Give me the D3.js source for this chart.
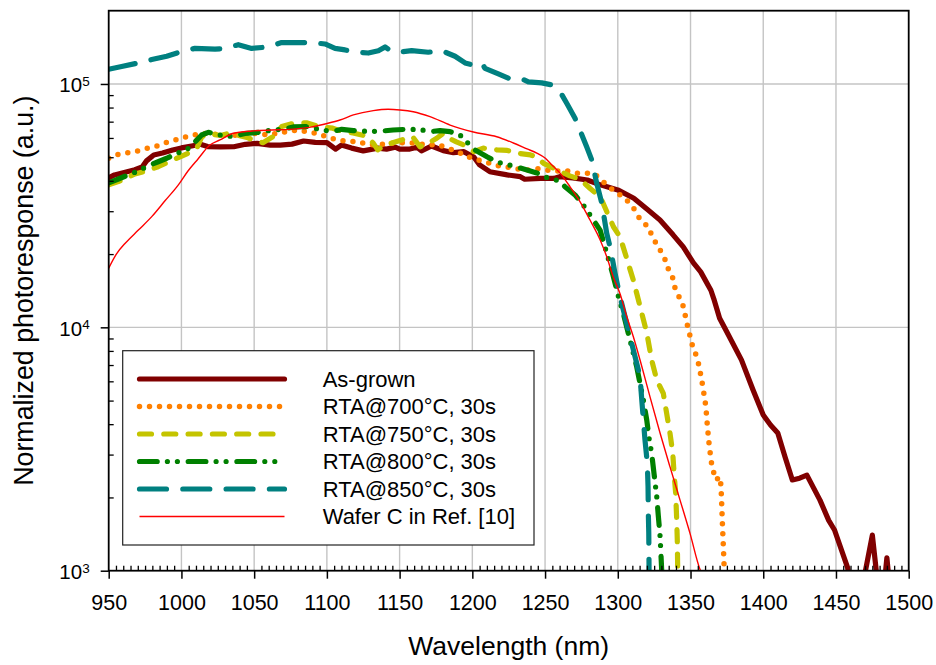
<!DOCTYPE html>
<html><head><meta charset="utf-8">
<script src="https://cdn.jsdelivr.net/npm/d3@7/dist/d3.min.js"></script>
<style>
body{margin:0;background:#fff}
svg{display:block;font-family:"Liberation Sans",Arial,Helvetica,sans-serif}
</style>
</head><body>
<svg id="chart" width="936" height="665"></svg>
<script>
// ---------------- data ----------------
const seriesNames = ["As-grown","RTA@700°C, 30s","RTA@750°C, 30s","RTA@800°C, 30s","RTA@850°C, 30s","Wafer C in Ref. [10]"];

const asGrownWl = [950,954,968,973,976,981,987,994,1000,1007,1013,1018,1027,1036,1044,1052,1061,1068,1076,1084,1092,1100,1106,1110,1117,1125,1135,1141,1147,1150,1157,1162,1165,1172,1180,1187,1194,1201,1205,1212,1224,1233,1236,1247,1256,1260,1269,1279,1288,1300,1311,1320,1329,1338,1345,1352,1357,1364,1366,1370,1375,1385,1393,1400,1405,1410,1415,1420,1425,1430,1439,1445,1449,1458,1460,1468,1475,1479,1483,1485,1487];
const asGrownVal = [41100,42300,44400,45600,48300,51100,52000,53500,54600,55600,56500,55300,55100,55200,56500,57000,56100,56100,56600,58300,57500,57400,54000,56100,54500,53100,54500,54000,55000,54000,54000,55000,53100,55600,53200,52200,52700,50100,46500,43600,42300,41600,40600,40900,40900,41600,41100,40300,38500,36700,33900,30600,27600,24000,21400,18400,16900,14200,13100,10900,9570,7350,5530,4360,3970,3680,2930,2360,2400,2470,1950,1610,1470,1030,850,850,1400,850,850,1130,850];

const rta700Wl = [950,957,964,970,977,984,991,998,1005,1012,1019,1025,1032,1040,1052,1059,1073,1080,1086,1093,1100,1107,1114,1121,1128,1135,1141,1148,1155,1162,1169,1176,1183,1190,1196,1203,1210,1217,1224,1231,1238,1245,1251,1258,1264,1271,1278,1284,1291,1298,1305,1311,1315,1321,1324,1328,1332,1334,1337.5,1339,1342,1345,1348,1351.5,1354.3,1356,1358.4,1360.5,1361.6,1362.9,1364.6,1367.3,1370.3,1371,1371.5,1372,1372.6,1373.1,1373.3];
const rta700Val = [49500,51500,52200,53100,54500,55800,57900,59400,61100,62300,62700,62000,61700,61400,62700,61700,63800,64700,63700,62700,60700,58900,58000,58000,56400,56100,57000,57000,57500,56900,56100,56400,54500,52700,50400,48900,47600,46200,45500,44800,44300,44800,44300,43900,44100,43000,43000,42700,39100,36100,33900,30800,28000,25800,23400,21300,19400,17700,16200,14700,13400,12200,10100,8330,7570,6890,5740,4750,3930,3250,2720,2360,2430,2210,1830,1520,1250,1040,950];

const rta750Wl = [950,956.6,963.5,968,974,984,989,999,1007,1011,1014,1020,1027,1031,1038,1045,1052,1056,1063,1069,1077,1086,1095,1104,1111,1118,1127,1132,1135,1140,1148,1155,1159,1164,1169.5,1175.5,1180,1185,1189,1196,1201,1207.5,1217,1224,1230.5,1240,1244,1249,1258,1267,1274,1281,1288,1292.4,1297,1301.6,1306,1310.7,1315.3,1320,1323.3,1326.8,1331.3,1333.6,1335.9,1337.8,1338.7,1339.8,1340.5,1340.9,1341.2,1341.3];
const rta750Val = [38500,39700,41400,42700,43600,45700,47200,50200,52700,55200,60700,62300,61400,62300,61700,60300,58000,57400,60700,66800,68900,69200,66800,65800,63700,62900,61100,57000,53600,56100,58000,59800,60700,55200,57000,59800,62700,59400,57800,55600,52700,54500,53600,53300,52000,51100,50200,47200,44400,41900,40600,37200,34400,29900,25900,23500,19300,15600,12200,9440,7340,6070,5350,4430,3670,3030,2510,2080,1620,1340,1000,950];

const rta800Wl = [950,956.6,963.5,970.4,976.8,983.6,989.9,996.8,1003.6,1009.7,1013.9,1018.5,1025,1030.6,1036.8,1043.7,1052.3,1062.3,1070,1076.9,1085.6,1095.3,1103.3,1110.2,1118.2,1129.7,1138.6,1145.5,1154.9,1164,1170.9,1177.8,1184.7,1191.5,1197.2,1201.8,1210.4,1216.8,1228.2,1237.6,1244.3,1251.1,1260.3,1263.7,1270.6,1276.3,1280.9,1287.8,1292.4,1296.7,1300.4,1303.8,1308.4,1313,1317.6,1319.9,1321.7,1323.3,1324.9,1326.8,1327.9,1329.1,1330.2,1330.4];
const rta800Val = [39200,40700,42300,43900,46000,47800,49500,51900,53600,58100,61700,63300,62000,61000,61100,62600,63200,64700,65200,66600,66800,65100,63700,65100,64300,63800,64100,64700,65100,65000,63700,64300,63700,61700,57000,53600,50100,47800,46000,44300,43100,41300,39900,37800,35000,31800,29000,25100,20200,16400,13400,11400,8870,6890,5020,4160,3440,3030,2510,2010,1670,1380,1000,950];

const rta850Wl = [950,958.9,970.4,979.6,989.9,1000.2,1009.3,1023.1,1030,1039.1,1048.3,1059.7,1068.9,1089.6,1098.7,1105.6,1112.5,1119.3,1128.5,1135.4,1140,1144.6,1149.1,1158.3,1169.7,1178.9,1188.1,1195,1199.6,1206.4,1208.7,1217.9,1225.9,1234,1238.5,1247.7,1254.6,1260.3,1264.9,1270.6,1278.6,1282.1,1285.5,1289,1292.4,1294.7,1298.1,1301.6,1306.1,1310.7,1315.3,1316.5,1317.6,1318.7,1320.3,1320.8,1321,1321.3,1321.5,1321.6];
const rta850Val = [115000,118000,122000,126000,130000,136000,140000,139000,140000,145000,140000,142000,148000,148000,146000,140000,138000,135000,134000,137000,142000,136000,135000,137000,135000,137000,130000,122000,120000,122000,116000,110000,105000,105000,102000,101000,99100,93000,83300,72300,55200,48700,39100,32400,24300,21400,16700,13300,10400,8070,6270,5020,4160,3440,2760,2210,1720,1430,1000,950];

const waferCWl = [950,955.5,961.2,970.4,979.6,988.7,997.9,1004.5,1011.4,1019.6,1026.5,1035.7,1048.5,1062.3,1074.6,1089.8,1098.7,1109,1118.2,1131.9,1142.1,1150.3,1159.4,1170.9,1184.7,1200.7,1216.8,1228.2,1237.6,1244.3,1250,1253.4,1260.3,1267.2,1274.1,1280.9,1287.8,1292.4,1296.9,1301.6,1306.1,1310.7,1315.3,1322.1,1329.1,1335.9,1342.8,1349.7,1356.6,1358.7];
const waferCVal = [17500,20100,22100,25100,28500,33100,38500,43900,49200,56100,58900,62700,64100,64700,65100,66600,68500,71100,74600,77700,78700,78200,76900,73400,67800,63500,60700,57200,54100,52000,49600,47300,43000,37800,32800,27600,22900,19500,16100,13700,11100,9150,7340,5190,3670,2670,1950,1420,1010,950];

const xTicks = [950,1000,1050,1100,1150,1200,1250,1300,1350,1400,1450,1500];
const yTicks = [1e3,1e4,1e5];
const yTickExp = ["3","4","5"];
const xTitle = "Wavelength (nm)";
const yTitle = "Normalized photoresponse (a.u.)";

// ---------------- layout ----------------
const W = 936, H = 665;
const m = {l:108.7, t:10.7, r:27.3, b:94.3};
const svg = d3.select("#chart");
const x = d3.scaleLinear().domain([950,1500]).range([m.l, W-m.r]);
const y = d3.scaleLog().domain([1e3,2e5]).range([H-m.b, m.t]);
const x0 = x.range()[0], x1 = x.range()[1], y0 = y.range()[0], y1 = y.range()[1];

svg.append("rect").attr("width",W).attr("height",H).attr("fill","#fff");

// gridlines
const grid = svg.append("g").attr("stroke","#c4c4c4").attr("stroke-width",1.4);
grid.selectAll("line.v").data(xTicks.slice(1,-1)).join("line")
  .attr("x1",d=>x(d)).attr("x2",d=>x(d)).attr("y1",y0).attr("y2",y1);
grid.selectAll("line.h").data([1e4,1e5]).join("line")
  .attr("x1",x0).attr("x2",x1).attr("y1",d=>y(d)).attr("y2",d=>y(d));

// series
const styles = [
  {color:"#800000", w:5.2, dash:null},
  {color:"#ff8000", w:5.5, dash:"0,10"},
  {color:"#c4c400", w:5.2, dash:"12,12.3"},
  {color:"#008000", w:5.2, dash:"17.7,10.2,0,10,0,10.8"},
  {color:"#008080", w:5.2, dash:"27,16.3"},
  {color:"#ff0000", w:1.4, dash:null}
];
const series = [
  d3.zip(asGrownWl, asGrownVal),
  d3.zip(rta700Wl, rta700Val),
  d3.zip(rta750Wl, rta750Val),
  d3.zip(rta800Wl, rta800Val),
  d3.zip(rta850Wl, rta850Val),
  d3.zip(waferCWl, waferCVal)
];

svg.append("clipPath").attr("id","plotclip").append("rect")
  .attr("x",x0).attr("y",y1).attr("width",x1-x0).attr("height",y0-y1);

const gLines = svg.append("g").attr("clip-path","url(#plotclip)");
series.forEach((s,i)=>{
  const st = styles[i];
  const line = d3.line().x(d=>x(d[0])).y(d=>y(d[1]))
    .curve(i===5 ? d3.curveMonotoneX : d3.curveLinear);
  gLines.append("path").datum(s).attr("d",line)
    .attr("fill","none").attr("stroke",st.color).attr("stroke-width",st.w)
    .attr("stroke-linecap","round").attr("stroke-linejoin","round")
    .attr("stroke-dasharray",st.dash);
});

// axes
const xMinor = d3.range(955,1500,5).filter(v=>v%50!==0);
const yMinor = [];
[1e3,1e4].forEach(dec=>{for(let k=2;k<=9;k++) yMinor.push(k*dec);});

const xAxis = svg.append("g").attr("transform",`translate(0,${y0})`)
  .call(d3.axisBottom(x).tickValues(xTicks).tickSize(8).tickPadding(16).tickFormat(d3.format("d")));
xAxis.select(".domain").remove();
xAxis.selectAll("line").attr("stroke","#000").attr("stroke-width",1.5);
xAxis.selectAll("text").attr("font-size",21.5).attr("fill","#000").attr("font-family","Liberation Sans, Arial, sans-serif");

const xAxisMinor = svg.append("g").attr("transform",`translate(0,${y0})`)
  .call(d3.axisBottom(x).tickValues(xMinor).tickSize(-5).tickFormat(""));
xAxisMinor.select(".domain").remove();
xAxisMinor.selectAll("line").attr("stroke","#000").attr("stroke-width",1.3);

const yAxis = svg.append("g").attr("transform",`translate(${x0},0)`)
  .call(d3.axisLeft(y).tickValues(yTicks).tickSize(8).tickFormat(""));
yAxis.select(".domain").remove();
yAxis.selectAll("line").attr("stroke","#000").attr("stroke-width",1.5);
yAxis.selectAll(".tick").each(function(d,i){
  const t = d3.select(this).append("text")
    .attr("x",-19).attr("y",8).attr("text-anchor","end")
    .attr("fill","#000").attr("font-size",20.5)
    .attr("font-family","Liberation Sans, Arial, sans-serif");
  t.append("tspan").text("10");
  t.append("tspan").attr("font-size",13.5).attr("dy",-6.5).text(yTickExp[i]);
});

const yAxisMinor = svg.append("g").attr("transform",`translate(${x0},0)`)
  .call(d3.axisLeft(y).tickValues(yMinor).tickSize(-5).tickFormat(""));
yAxisMinor.select(".domain").remove();
yAxisMinor.selectAll("line").attr("stroke","#000").attr("stroke-width",1.3);

// frame
svg.append("rect").attr("x",x0).attr("y",y1).attr("width",x1-x0).attr("height",y0-y1)
  .attr("fill","none").attr("stroke","#000").attr("stroke-width",1.8);

// titles
svg.append("text").attr("x",(x0+x1)/2).attr("y",655).attr("text-anchor","middle")
  .attr("font-size",26.5).attr("fill","#000").text(xTitle);
svg.append("text").attr("transform",`translate(33,${(y0+y1)/2}) rotate(-90)`)
  .attr("text-anchor","middle").attr("font-size",26.8).attr("fill","#000").text(yTitle);

// legend
const lg = svg.append("g");
lg.append("rect").attr("x",122.7).attr("y",350.7).attr("width",411.3).attr("height",194.3)
  .attr("fill","#fff").attr("stroke","#222").attr("stroke-width",1.2);
seriesNames.forEach((name,i)=>{
  const ly = 379 + i*27.5;
  const st = styles[i];
  lg.append("line").attr("x1",139.5).attr("x2",284.5).attr("y1",ly).attr("y2",ly)
    .attr("stroke",st.color).attr("stroke-width",st.w)
    .attr("stroke-linecap",i===5?"butt":"round").attr("stroke-dasharray",st.dash);
  lg.append("text").attr("x",322.7).attr("y",ly+7.8).attr("font-size",22)
    .attr("fill","#000").text(name);
});
</script>
</body></html>
